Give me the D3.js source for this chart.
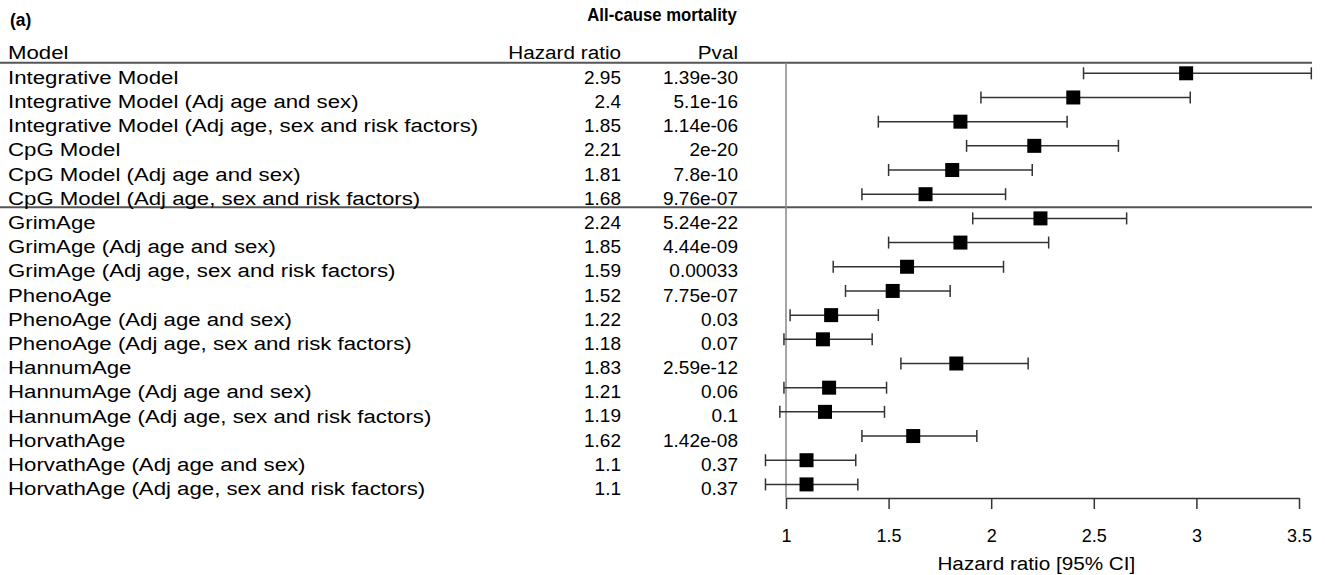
<!DOCTYPE html>
<html>
<head>
<meta charset="utf-8">
<script src="https://cdn.jsdelivr.net/npm/d3@7"></script>
<style>
  body { margin: 0; background: #fff; }
  text { font-family: "Liberation Sans", Arial, sans-serif; fill: #000; }
</style>
</head>
<body>
<div id="chart"></div>
<script>
var width = 1325, height = 575;

// data
var models = ["Integrative Model", "Integrative Model (Adj age and sex)", "Integrative Model (Adj age, sex and risk factors)",
  "CpG Model", "CpG Model (Adj age and sex)", "CpG Model (Adj age, sex and risk factors)",
  "GrimAge", "GrimAge (Adj age and sex)", "GrimAge (Adj age, sex and risk factors)",
  "PhenoAge", "PhenoAge (Adj age and sex)", "PhenoAge (Adj age, sex and risk factors)",
  "HannumAge", "HannumAge (Adj age and sex)", "HannumAge (Adj age, sex and risk factors)",
  "HorvathAge", "HorvathAge (Adj age and sex)", "HorvathAge (Adj age, sex and risk factors)"];
var hr = [2.95, 2.4, 1.85, 2.21, 1.81, 1.68, 2.24, 1.85, 1.59, 1.52, 1.22, 1.18, 1.83, 1.21, 1.19, 1.62, 1.1, 1.1];
var hrLabel = ["2.95", "2.4", "1.85", "2.21", "1.81", "1.68", "2.24", "1.85", "1.59", "1.52", "1.22", "1.18", "1.83", "1.21", "1.19", "1.62", "1.1", "1.1"];
var pval = ["1.39e-30", "5.1e-16", "1.14e-06", "2e-20", "7.8e-10", "9.76e-07", "5.24e-22", "4.44e-09", "0.00033",
  "7.75e-07", "0.03", "0.07", "2.59e-12", "0.06", "0.1", "1.42e-08", "0.37", "0.37"];
var lower = [2.45, 1.95, 1.45, 1.88, 1.50, 1.37, 1.91, 1.50, 1.23, 1.29, 1.02, 0.99, 1.56, 0.99, 0.97, 1.37, 0.90, 0.90];
var upper = [3.56, 2.97, 2.37, 2.62, 2.20, 2.07, 2.66, 2.28, 2.06, 1.80, 1.45, 1.42, 2.18, 1.49, 1.48, 1.93, 1.34, 1.35];
var ticks = [1, 1.5, 2, 2.5, 3, 3.5];

var svg = d3.select("#chart").append("svg")
    .attr("width", width)
    .attr("height", height);

var x = d3.scaleLinear().domain([1, 3.5]).range([786, 1299]);
var y = d3.scaleBand().domain(d3.range(models.length)).range([61.2, 496.5]);

var fs = "19px";
var stretch = 1.17;   // reference lettering is a bit wider than Arial

// title and panel letter
svg.append("text").attr("transform", "translate(10,26) scale(0.92,1)")
    .style("font-size", "19px").style("font-weight", "bold").text("(a)");
svg.append("text").attr("transform", "translate(662,21) scale(0.88,1)").attr("text-anchor", "middle")
    .style("font-size", "19px").style("font-weight", "bold").text("All-cause mortality");

// column headers
svg.append("text").attr("transform", "translate(8,59) scale(" + stretch + ",1)")
    .style("font-size", fs).text("Model");
svg.append("text").attr("transform", "translate(621,59) scale(1.09,1)").attr("text-anchor", "end")
    .style("font-size", fs).text("Hazard ratio");
svg.append("text").attr("transform", "translate(738,59) scale(1.09,1)").attr("text-anchor", "end")
    .style("font-size", fs).text("Pval");

// horizontal separators
svg.append("line").attr("x1", 0).attr("x2", 1312).attr("y1", 62.7).attr("y2", 62.7)
    .attr("stroke", "#555").attr("stroke-width", 2);
svg.append("line").attr("x1", 0).attr("x2", 1312).attr("y1", y(6) + 1).attr("y2", y(6) + 1)
    .attr("stroke", "#555").attr("stroke-width", 2);

// reference line at 1
svg.append("line").attr("x1", x(1)).attr("x2", x(1)).attr("y1", 62.7).attr("y2", 498)
    .attr("stroke", "#888").attr("stroke-width", 1.5);

var rows = svg.selectAll("g.row")
    .data(models)
    .enter()
    .append("g")
    .attr("class", "row")
    .attr("transform", function(d, i) { return "translate(0," + (y(i) + y.bandwidth() / 2) + ")"; });

rows.append("text").attr("transform", "translate(8,0) scale(" + stretch + ",1)")
    .attr("dy", "0.56em").style("font-size", fs)
    .text(function(d) { return d; });
rows.append("text").attr("x", 621).attr("dy", "0.56em").attr("text-anchor", "end").style("font-size", fs)
    .text(function(d, i) { return hrLabel[i]; });
rows.append("text").attr("x", 738).attr("dy", "0.56em").attr("text-anchor", "end").style("font-size", fs)
    .text(function(d, i) { return pval[i]; });

// confidence intervals
rows.append("line")
    .attr("x1", function(d, i) { return x(lower[i]); })
    .attr("x2", function(d, i) { return x(upper[i]); })
    .attr("stroke", "#333").attr("stroke-width", 1.5);
rows.append("line")
    .attr("x1", function(d, i) { return x(lower[i]); })
    .attr("x2", function(d, i) { return x(lower[i]); })
    .attr("y1", -6).attr("y2", 6)
    .attr("stroke", "#333").attr("stroke-width", 1.5);
rows.append("line")
    .attr("x1", function(d, i) { return x(upper[i]); })
    .attr("x2", function(d, i) { return x(upper[i]); })
    .attr("y1", -6).attr("y2", 6)
    .attr("stroke", "#333").attr("stroke-width", 1.5);
rows.append("rect")
    .attr("x", function(d, i) { return x(hr[i]) - 7; })
    .attr("y", -7)
    .attr("width", 14).attr("height", 14)
    .attr("fill", "#000");

// x axis
var axis = svg.append("g").attr("transform", "translate(0,498)")
    .call(d3.axisBottom(x).tickValues(ticks).tickSize(11).tickSizeOuter(0).tickPadding(20).tickFormat(d3.format("")));
axis.select(".domain").attr("stroke", "#333").attr("stroke-width", 1.5);
axis.selectAll(".tick line").attr("stroke", "#333").attr("stroke-width", 1.5);
axis.selectAll(".tick text").style("font-size", "18px")
    .style("font-family", "'Liberation Sans', Arial, sans-serif").attr("fill", "#000");

svg.append("text").attr("transform", "translate(" + x(2.22) + ",570) scale(1.09,1)").attr("text-anchor", "middle")
    .style("font-size", "19px").text("Hazard ratio [95% CI]");
</script>
</body>
</html>
